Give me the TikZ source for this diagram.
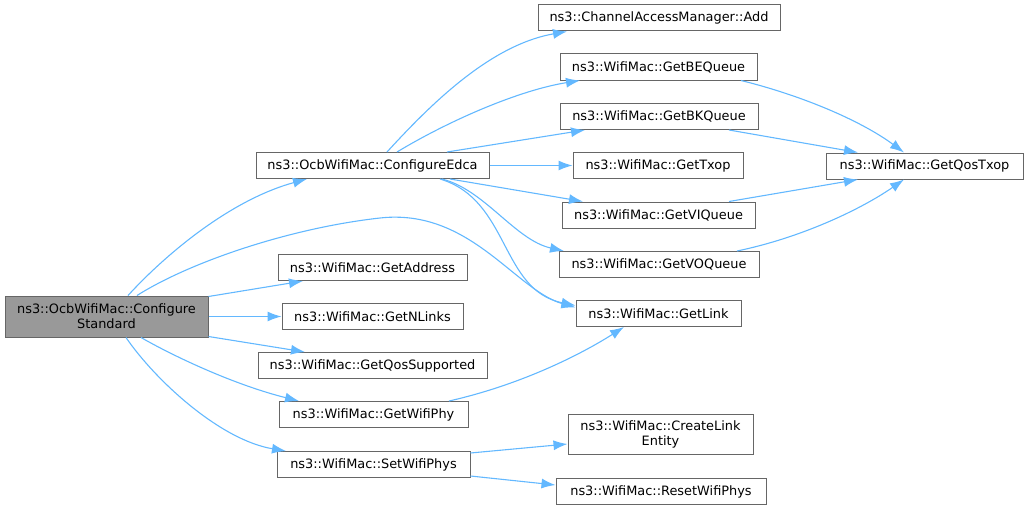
\documentclass[tikz,border=0pt]{standalone}
\usepackage{fontspec}
\setmainfont{DejaVu Sans}
\usetikzlibrary{arrows.meta}
\definecolor{edgeblue}{HTML}{63B8FF}
\definecolor{boxgray}{HTML}{666666}
\definecolor{mainfill}{HTML}{999999}
\begin{document}
\begin{tikzpicture}[x=1pt,y=-1pt,>={Latex[length=14pt,width=10pt]},
  fn/.style={draw=boxgray,line width=1pt,fill=white,inner sep=0pt,minimum height=26pt,font=\fontsize{12.9}{15}\selectfont},
  call/.style={->,draw=edgeblue,line width=1.1pt}]
\useasboundingbox (0,0) rectangle (1027,511);

% caller
\node[fn,fill=mainfill,minimum width=203pt,minimum height=41pt,align=center] (main) at (106.5,316.5) {ns3::OcbWifiMac::Configure\\Standard};

% first rank
\node[fn,minimum width=233pt] (edca) at (372.5,165.5) {ns3::OcbWifiMac::ConfigureEdca};
\node[fn,minimum width=189pt] (addr) at (372.5,267.5) {ns3::WifiMac::GetAddress};
\node[fn,minimum width=181pt] (nlinks) at (372.5,316.5) {ns3::WifiMac::GetNLinks};
\node[fn,minimum width=229pt] (qsup) at (372.5,365.5) {ns3::WifiMac::GetQosSupported};
\node[fn,minimum width=189pt] (wphy) at (373.5,414.5) {ns3::WifiMac::GetWifiPhy};
\node[fn,minimum width=193pt] (sphys) at (373.5,464.5) {ns3::WifiMac::SetWifiPhys};

% second rank
\node[fn,minimum width=242pt] (add) at (659,18) {ns3::ChannelAccessManager::Add};
\node[fn,minimum width=197pt] (beq) at (658.5,67) {ns3::WifiMac::GetBEQueue};
\node[fn,minimum width=198pt] (bkq) at (659,116.5) {ns3::WifiMac::GetBKQueue};
\node[fn,minimum width=170pt] (txop) at (658,165.5) {ns3::WifiMac::GetTxop};
\node[fn,minimum width=193pt] (viq) at (658.5,215) {ns3::WifiMac::GetVIQueue};
\node[fn,minimum width=200pt] (voq) at (659,264.5) {ns3::WifiMac::GetVOQueue};
\node[fn,minimum width=165pt] (link) at (658.5,313.5) {ns3::WifiMac::GetLink};
\node[fn,minimum width=185pt,minimum height=40pt,align=center] (cle) at (660.5,434) {ns3::WifiMac::CreateLink\\Entity};
\node[fn,minimum width=210pt] (rphys) at (661,491.5) {ns3::WifiMac::ResetWifiPhys};

% third rank
\node[fn,minimum width=197pt] (qtxop) at (924.5,166) {ns3::WifiMac::GetQosTxop};

% calls from the caller
\draw[call] ([xshift=21.5pt]main.north) .. controls (165,255) and (230,200) .. ([xshift=-65.5pt]edca.south);
\draw[call] ([xshift=30.5pt]main.north) .. controls (190,262) and (290,228) .. (380,218)
  .. controls (470,208) and (515,290) .. ([yshift=6pt]link.west);
\draw[call] ([yshift=-1pt]main.north east) -- ([xshift=-69.5pt]addr.south);
\draw[call] (main.east) -- (nlinks.west);
\draw[call] ([yshift=1pt]main.south east) -- ([xshift=-67.5pt]qsup.north);
\draw[call] ([xshift=34.5pt]main.south) .. controls (175,357) and (235,385) .. ([xshift=-74.5pt]wphy.north);
\draw[call] ([xshift=19.5pt]main.south) .. controls (155,380) and (220,440) .. ([xshift=-87.5pt]sphys.north);

% calls from ConfigureEdca
\draw[call] ([xshift=14.5pt]edca.north) .. controls (430,105) and (490,45) .. ([xshift=-92pt]add.south);
\draw[call] ([xshift=24.5pt]edca.north) .. controls (450,120) and (520,90) .. ([xshift=-78.5pt]beq.south);
\draw[call] ([xshift=74.5pt]edca.north) -- ([xshift=-74pt]bkq.south);
\draw[call] (edca.east) -- (txop.west);
\draw[call] ([xshift=77.5pt]edca.south) -- ([xshift=-75.5pt]viq.north);
\draw[call] ([xshift=69.5pt]edca.south) .. controls (485,190) and (515,240) .. ([xshift=-95pt]voq.north);
\draw[call] ([xshift=67.5pt]edca.south) .. controls (510,200) and (500,290) .. ([yshift=8pt]link.west);

% calls to GetQosTxop
\draw[call] ([xshift=82.5pt]beq.south) .. controls (800,95) and (860,120) .. ([xshift=-20.5pt]qtxop.north);
\draw[call] ([xshift=70pt]bkq.south) -- ([xshift=-66.5pt]qtxop.north);
\draw[call] ([xshift=70.5pt]viq.north) -- ([xshift=-66.5pt]qtxop.south);
\draw[call] ([xshift=78pt]voq.north) .. controls (800,238) and (860,210) .. ([xshift=-20.5pt]qtxop.south);

% remaining calls
\draw[call] ([xshift=75.5pt]wphy.north) .. controls (520,385) and (580,355) .. ([xshift=-34.5pt]link.south);
\draw[call] ([yshift=-2pt]sphys.north east) -- ([yshift=-10pt]cle.west);
\draw[call] ([yshift=2pt]sphys.south east) -- ([yshift=6.5pt]rphys.west);
\end{tikzpicture}
\end{document}
